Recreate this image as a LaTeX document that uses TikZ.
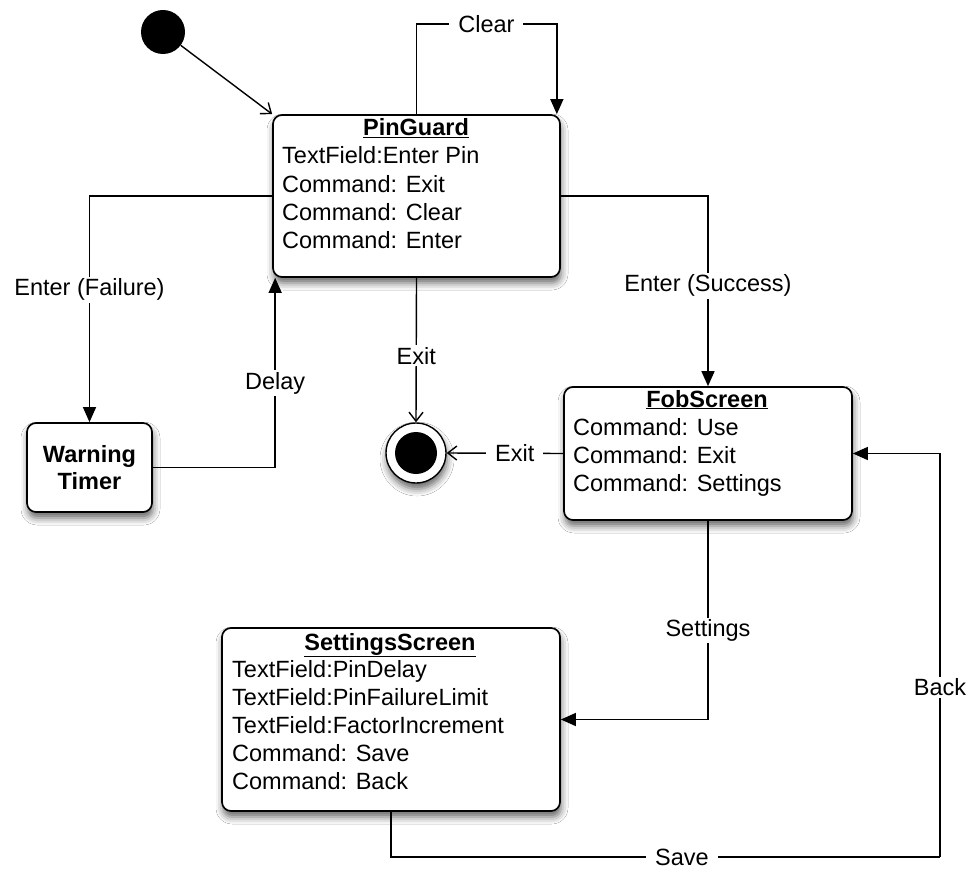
\documentclass[tikz,border=0pt]{standalone}
\usepackage{fontspec}
\setmainfont{Liberation Sans}
\usetikzlibrary{arrows.meta,shadows.blur}
\begin{document}
\begin{tikzpicture}[x=1pt,y=-1pt,
  every node/.style={font=\fontsize{23.5}{27}\selectfont},
  state/.style={draw, line width=1.7pt, rounded corners=9pt, fill=white, inner sep=0pt,
    blur shadow={shadow xshift=1pt, shadow yshift=-6pt, shadow blur radius=7pt, shadow opacity=60}},
  txt/.style={anchor=base west, inner sep=0pt},
  ttl/.style={anchor=base, inner sep=0pt, font=\fontsize{23.5}{27}\selectfont\bfseries},
  lbl/.style={fill=white, inner xsep=9pt, inner ysep=2pt},
  flow/.style={line width=1.4pt, -{Triangle[width=13pt,length=15pt]}},
  openarr/.style={line width=1.4pt, -{Straight Barb[width=14pt,length=9pt]}},
]
\useasboundingbox (0,0) rectangle (968,869);
\fill[white] (0,0) rectangle (968,869);

% states
\node[circle, fill=black, minimum size=44pt, inner sep=0pt] (init) at (163,32) {};
\node[state, minimum width=287pt, minimum height=162pt] (pg) at (416.5,196) {};
\node[state, minimum width=125pt, minimum height=89pt, align=center,
      font=\fontsize{23.5}{27}\selectfont\bfseries] (wt) at (89.5,467.5) {Warning\\Timer};
\node[state, minimum width=288pt, minimum height=133pt] (fob) at (708,453.5) {};
\node[state, minimum width=338pt, minimum height=183pt] (ss) at (391,719.5) {};
\node[circle, draw, line width=1.4pt, fill=white, minimum size=60pt, inner sep=0pt,
      blur shadow={shadow xshift=1pt, shadow yshift=-6pt, shadow blur radius=7pt, shadow opacity=60}] (fin) at (416,453) {};
\node[circle, fill=black, minimum size=42pt, inner sep=0pt] (finin) at (fin.center) {};

% texts in PinGuard
\node[ttl] (pgt) at (416,136) {\underline{PinGuard}};
\node[txt] (pg1) at (282,164) {TextField:Enter Pin};
\node[txt] (pg2) at (282,192) {Command: Exit};
\node[txt] (pg3) at (282,220) {Command: Clear};
\node[txt] (pg4) at (282,248) {Command: Enter};

% texts in FobScreen
\node[ttl] (fobt) at (707,407) {\underline{FobScreen}};
\node[txt] (fob1) at (573,435) {Command: Use};
\node[txt] (fob2) at (573,463) {Command: Exit};
\node[txt] (fob3) at (573,491) {Command: Settings};

% texts in SettingsScreen
\node[ttl] (sst) at (390,650) {\underline{SettingsScreen}};
\node[txt] (ss1) at (232,677) {TextField:PinDelay};
\node[txt] (ss2) at (232,705) {TextField:PinFailureLimit};
\node[txt] (ss3) at (232,733) {TextField:FactorIncrement};
\node[txt] (ss4) at (232,761) {Command: Save};
\node[txt] (ss5) at (232,789) {Command: Back};

\coordinate (sb) at (940,857);

% transitions
\draw[openarr] (init) -- (pg.north west);
\draw[flow] (pg.north) -- ++(0,-90) -| node[lbl,pos=0.249] {Clear} ([xshift=-4pt]pg.north east);
\draw[flow] (pg.west) -| node[lbl,pos=0.707] {Enter (Failure)} (wt.north);
\draw[flow] (wt.east) -| node[lbl,pos=0.722] {Delay} ([xshift=3pt]pg.south west);
\draw[flow] (pg.east) -| node[lbl,pos=0.736] {Enter (Success)} (fob.north);
\draw[openarr] (pg.south) -- node[lbl,pos=0.54] {Exit} (fin.north);
\draw[openarr] (fob.west) -- node[lbl,pos=0.415] {Exit} (fin.east);
\draw[flow] (fob.south) |- node[lbl,pos=0.276] {Settings} (ss.east);
\draw[line width=1.4pt] (ss.south) |- node[lbl,pos=0.765] {Save} (sb);
\draw[flow] (sb) |- node[lbl,pos=0.21] {Back} (fob.east);
\end{tikzpicture}
\end{document}
